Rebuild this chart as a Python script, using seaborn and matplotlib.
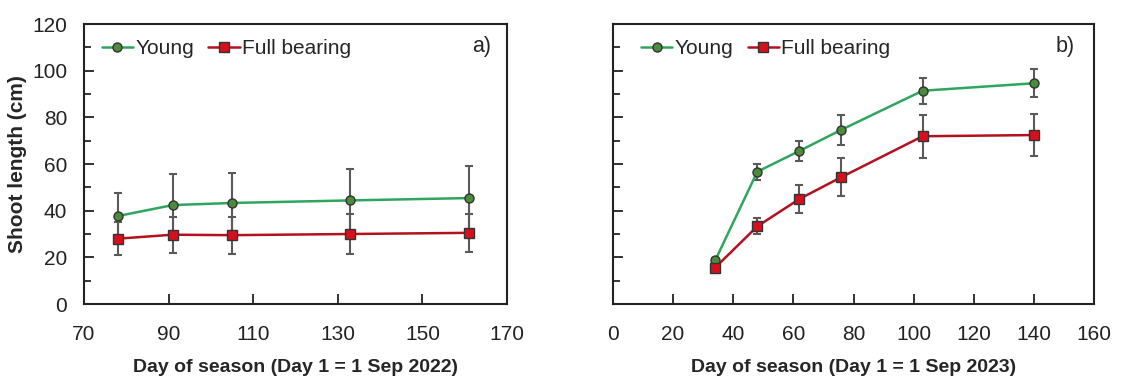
import numpy as np
import pandas as pd
import matplotlib
matplotlib.use("Agg")
import matplotlib.pyplot as plt
import seaborn as sns
from matplotlib.ticker import MultipleLocator

# ---- data ----
days_2022 = [78, 91, 105, 133, 161]
young_2022 = [37.7, 42.4, 43.3, 44.4, 45.4]
young_2022_err = [10.0, 13.2, 12.7, 13.5, 13.6]
full_2022 = [28.0, 29.7, 29.5, 30.0, 30.5]
full_2022_err = [7.0, 7.7, 7.9, 8.4, 8.1]

days_2023 = [34, 48, 62, 76, 103, 140]
young_2023 = [18.7, 56.7, 65.6, 74.7, 91.4, 94.6]
young_2023_err = [1.0, 3.5, 4.3, 6.5, 5.6, 5.9]
full_2023 = [15.6, 33.3, 45.0, 54.4, 71.9, 72.4]
full_2023_err = [1.0, 3.4, 5.9, 8.2, 9.2, 9.0]

series_names = ["Young", "Full bearing"]
panel_tags = ["a)", "b)"]
xlabels = ["Day of season (Day 1 = 1 Sep 2022)", "Day of season (Day 1 = 1 Sep 2023)"]
ylabel = "Shoot length (cm)"

sns.set_style("ticks")
plt.rcParams['font.family'] = ['Liberation Sans', 'DejaVu Sans']

fig = plt.figure(figsize=(11.23, 3.83), dpi=100)
W, H = 1123, 383
ax1 = fig.add_axes([84 / W, 1 - 304 / H, (507 - 84) / W, (304 - 24) / H])
ax2 = fig.add_axes([613 / W, 1 - 304 / H, (1094 - 613) / W, (304 - 24) / H])

line_cols = {"Young": "#2ea65e", "Full bearing": "#b5101e"}
face_cols = {"Young": "#4b8b3b", "Full bearing": "#d50f1c"}
mk = {"Young": "o", "Full bearing": "s"}

panels = [
    (ax1, days_2022, young_2022, young_2022_err, full_2022, full_2022_err),
    (ax2, days_2023, young_2023, young_2023_err, full_2023, full_2023_err),
]

for i, (ax, d, y, ye, f, fe) in enumerate(panels):
    df = pd.DataFrame({
        "day": list(d) * 2,
        "val": list(y) + list(f),
        "err": list(ye) + list(fe),
        "group": ["Young"] * len(d) + ["Full bearing"] * len(d),
    })
    for g in series_names:
        sub = df[df.group == g]
        ax.errorbar(sub.day, sub.val, yerr=sub.err, fmt="none", ecolor="#5a5a5a",
                    elinewidth=1.5, capsize=3, capthick=1.5, zorder=2)
    sns.lineplot(data=df, x="day", y="val", hue="group", style="group",
                 palette=line_cols, markers=mk, dashes=False, ax=ax, lw=1.8,
                 markersize=6.5, markeredgecolor="#333333", markeredgewidth=1,
                 legend=False, zorder=3)
    for ln, g in zip(ax.lines[-2:], series_names):
        ln.set_markerfacecolor(face_cols[g])

    ax.set_ylim(0, 120)
    ax.yaxis.set_major_locator(MultipleLocator(20))
    ax.yaxis.set_minor_locator(MultipleLocator(10))
    if i == 0:
        ax.set_xlim(70, 170)
        ax.set_xticks([70, 90, 110, 130, 150, 170])
        ax.set_ylabel(ylabel, fontsize=15, fontweight="bold")
        ax.yaxis.set_label_coords(-0.135, 0.5)
    else:
        ax.set_xlim(0, 160)
        ax.set_xticks(range(0, 161, 20))
        ax.set_ylabel("")
        ax.tick_params(axis="y", which="both", labelleft=False)
    ax.set_xlabel(xlabels[i], fontsize=14, fontweight="bold")
    ax.xaxis.set_label_coords(0.5, -0.195)
    ax.tick_params(axis="both", which="major", direction="in", length=7, width=1.3,
                   labelsize=15, colors="#222222")
    ax.tick_params(axis="x", which="major", pad=15)
    ax.tick_params(axis="y", which="major", pad=12)
    ax.tick_params(axis="y", which="minor", direction="in", length=5, width=1.3)
    ax.tick_params(axis="x", which="both", top=False)
    for s in ax.spines.values():
        s.set_visible(True)
        s.set_linewidth(1.5)
        s.set_color("#222222")

    handles = [plt.Line2D([], [], color=line_cols[g], lw=1.8, marker=mk[g], markersize=6.5,
                          markerfacecolor=face_cols[g], markeredgecolor="#333333")
               for g in series_names]
    ax.legend(handles, series_names, loc="upper left", ncol=2, frameon=False,
              fontsize=15, handlelength=1.5, handletextpad=0.1, columnspacing=0.7,
              bbox_to_anchor=(0.01 if i == 0 else 0.03, 0.995), borderaxespad=0.25)
    ax.text(0.94, 0.92, panel_tags[i], transform=ax.transAxes, fontsize=15.5,
            ha="center", va="center")

fig.savefig("out.png", dpi=100)
